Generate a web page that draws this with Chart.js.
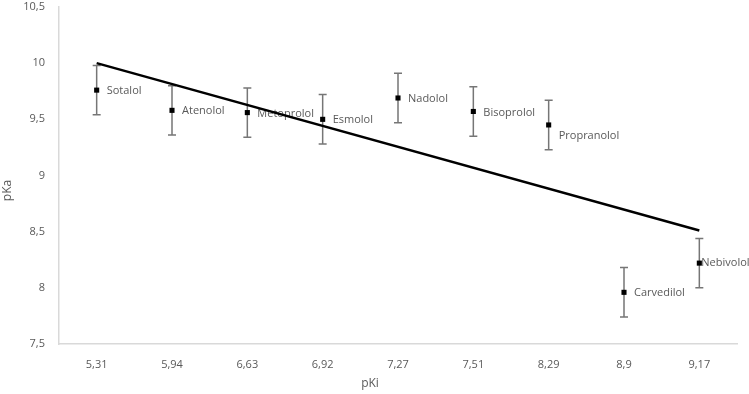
<!DOCTYPE html>
<html>
<head>
<meta charset="utf-8">
<script src="https://cdn.jsdelivr.net/npm/chart.js@4/dist/chart.umd.min.js"></script>
<style>
  html, body { margin: 0; padding: 0; background: #fff; }
  #wrap { width: 749px; height: 394px; position: relative; }
</style>
</head>
<body>
<div id="wrap"><canvas id="c" width="749" height="394"></canvas></div>
<script>
// ---- data ----
const pKiLabels = ['5,31', '5,94', '6,63', '6,92', '7,27', '7,51', '8,29', '8,9', '9,17'];
const drugNames = ['Sotalol', 'Atenolol', 'Metoprolol', 'Esmolol', 'Nadolol', 'Bisoprolol', 'Propranolol', 'Carvedilol', 'Nebivolol'];
const pKaValues = [9.76, 9.58, 9.56, 9.50, 9.69, 9.57, 9.45, 7.96, 8.22];
const pKaErrors = [0.22, 0.22, 0.22, 0.22, 0.22, 0.22, 0.22, 0.22, 0.22];
const trendValues = [10.0, 8.51]; // linear trend at first and last category
const yTicks = [7.5, 8, 8.5, 9, 9.5, 10, 10.5];

// ---- styling ----
const FONT = "'Open Sans', sans-serif";
const TEXT = '#595959';
const AXIS = '#d9d9d9';
const ERR = '#767676';
const labelShift = { 6: { dx: 10, dy: 11 }, 8: { dx: 2, dy: 0 } };

const errorBarsAndLabels = {
  id: 'errorBarsAndLabels',
  beforeDatasetsDraw(chart) {
    const { ctx, scales: { x, y } } = chart;
    ctx.save();
    ctx.strokeStyle = ERR;
    ctx.lineWidth = 1.5;
    pKaValues.forEach((v, i) => {
      const px = x.getPixelForValue(i);
      const top = y.getPixelForValue(v + pKaErrors[i]);
      const bot = y.getPixelForValue(v - pKaErrors[i]);
      ctx.beginPath();
      ctx.moveTo(px, top); ctx.lineTo(px, bot);
      ctx.moveTo(px - 4, top); ctx.lineTo(px + 4, top);
      ctx.moveTo(px - 4, bot); ctx.lineTo(px + 4, bot);
      ctx.stroke();
    });
    ctx.fillStyle = TEXT;
    ctx.font = '11px ' + FONT;
    ctx.textAlign = 'left';
    ctx.textBaseline = 'middle';
    drugNames.forEach((name, i) => {
      const s = labelShift[i] || { dx: 10, dy: 1 };
      ctx.fillText(name, x.getPixelForValue(i) + s.dx, y.getPixelForValue(pKaValues[i]) + s.dy);
    });
    ctx.restore();
  },
  afterDraw(chart) {
    const { ctx, chartArea } = chart;
    ctx.save();
    ctx.fillStyle = TEXT;
    ctx.font = '12px ' + FONT;
    ctx.textAlign = 'center';
    ctx.textBaseline = 'middle';
    ctx.fillText('pKi', (chartArea.left + chartArea.right) / 2 - 28, 384);
    ctx.translate(8, (chartArea.top + chartArea.bottom) / 2 + 15);
    ctx.rotate(-Math.PI / 2);
    ctx.fillText('pKa', 0, 0);
    ctx.restore();
  }
};

new Chart(document.getElementById('c'), {
  type: 'line',
  data: {
    labels: pKiLabels,
    datasets: [
      {
        label: 'pKa',
        data: pKaValues,
        showLine: false,
        pointStyle: 'rect',
        pointRadius: 3.6,
        pointBackgroundColor: '#000',
        pointBorderColor: '#000',
        pointBorderWidth: 0,
        order: 0
      },
      {
        label: 'trend',
        data: [
          { x: pKiLabels[0], y: trendValues[0] },
          { x: pKiLabels[pKiLabels.length - 1], y: trendValues[1] }
        ],
        borderColor: '#000',
        borderWidth: 2.5,
        pointRadius: 0,
        fill: false,
        order: 1
      }
    ]
  },
  options: {
    responsive: false,
    animation: false,
    layout: { padding: { left: 0, right: 12, top: 7, bottom: 0 } },
    plugins: { legend: { display: false }, tooltip: { enabled: false } },
    scales: {
      x: {
        type: 'category',
        offset: true,
        grid: { display: false, drawTicks: false },
        border: { display: true, color: AXIS, width: 1.5 },
        ticks: { color: TEXT, font: { family: FONT, size: 11 }, padding: 14, maxRotation: 0, autoSkip: false },
        afterFit(s) { s.height = 50; }
      },
      y: {
        min: 7.5, max: 10.5,
        afterBuildTicks(s) { s.ticks = yTicks.map(v => ({ value: v })); },
        grid: { display: false, drawTicks: false },
        border: { display: true, color: AXIS, width: 1.5 },
        ticks: {
          color: TEXT, font: { family: FONT, size: 11 }, padding: 14,
          callback: v => String(v).replace('.', ',')
        },
        afterFit(s) { s.width = 59; s.paddingTop = 0; s.paddingBottom = 0; }
      }
    }
  },
  plugins: [errorBarsAndLabels]
});
</script>
</body>
</html>
